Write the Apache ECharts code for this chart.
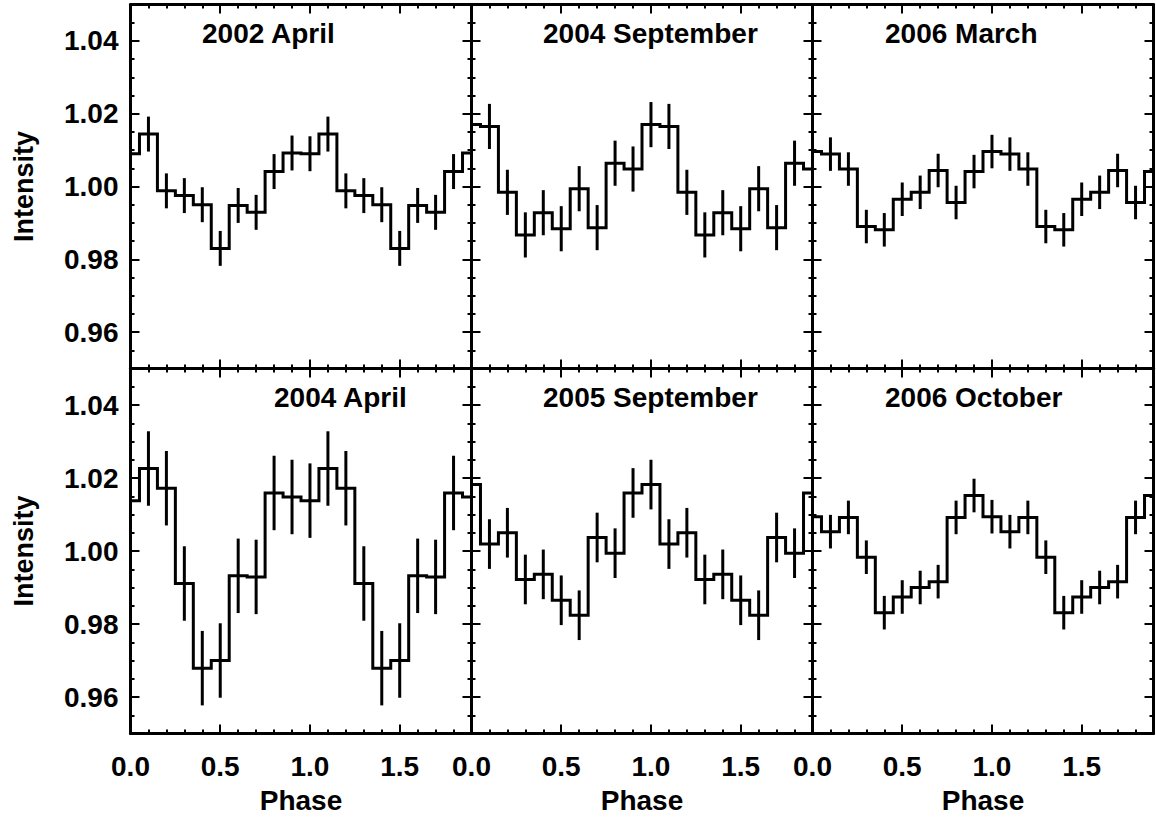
<!DOCTYPE html>
<html>
<head>
<meta charset="utf-8">
<script src="https://cdn.jsdelivr.net/npm/echarts@6.0.0/dist/echarts.min.js"></script>
<style>
  html, body { margin: 0; padding: 0; background: #fff; }
  #chart { width: 1156px; height: 817px; }
</style>
</head>
<body>
<div id="chart"></div>
<script>
// phase points (two cycles, bin width 0.1)
var phase = [0.0, 0.1, 0.2, 0.3, 0.4, 0.5, 0.6, 0.7, 0.8, 0.9,
             1.0, 1.1, 1.2, 1.3, 1.4, 1.5, 1.6, 1.7, 1.8, 1.9];

var titles = ['2002 April', '2004 September', '2006 March',
              '2004 April', '2005 September', '2006 October'];

// mean intensity per phase bin (one cycle, 10 bins)
var apr2002 = [1.0090, 1.0144, 0.9988, 0.9975, 0.9950, 0.9830, 0.9948, 0.9929, 1.0041, 1.0092];
var sep2004 = [1.0170, 1.0165, 0.9984, 0.9867, 0.9928, 0.9884, 0.9994, 0.9887, 1.0064, 1.0048];
var mar2006 = [1.0096, 1.0089, 1.0048, 0.9890, 0.9881, 0.9965, 0.9984, 1.0044, 0.9956, 1.0041];
var apr2004 = [1.0138, 1.0226, 1.0172, 0.9911, 0.9679, 0.9700, 0.9932, 0.9929, 1.0159, 1.0148];
var sep2005 = [1.0182, 1.0019, 1.0050, 0.9922, 0.9936, 0.9865, 0.9824, 1.0037, 0.9994, 1.0159];
var oct2006 = [1.0094, 1.0053, 1.0092, 0.9983, 0.9831, 0.9874, 0.9900, 0.9916, 1.0092, 1.0152];

// error bar half-length for each panel
var errs = [0.0048, 0.0062, 0.0046, 0.0102, 0.0068, 0.0046];

var xTicks = [0.0, 0.5, 1.0, 1.5];
var yTicks = [0.96, 0.98, 1.00, 1.02, 1.04];

var panels = [apr2002, sep2004, mar2006, apr2004, sep2005, oct2006];

var colLeft = [130.5, 471.5, 812.5];
var rowTop = [4.5, 368.5];
var rowH = [364, 365];
var gridW = 341;

var font = "'Liberation Sans', Arial, sans-serif";
var labelStyle = { color: '#000', fontSize: 28, fontWeight: 'bold', fontFamily: font };

var grids = [], xAxes = [], yAxes = [], series = [], title = [];

panels.forEach(function (vals, k) {
  var row = Math.floor(k / 3), col = k % 3;
  grids.push({
    left: colLeft[col], top: rowTop[row], width: gridW, height: rowH[row],
    containLabel: false, outerBoundsMode: 'none'
  });

  // x axes: bottom major, top major, bottom minor, top minor
  ['bottom', 'top'].forEach(function (pos) {
    var withLabels = pos === 'bottom' && row === 1;
    xAxes.push({
      type: 'value', gridIndex: k, min: 0, max: 1.9, position: pos,
      axisLine: { show: true, onZero: false, lineStyle: { color: '#000', width: 3 } },
      axisTick: { show: true, inside: true, length: 9, customValues: xTicks,
                  lineStyle: { color: '#000', width: 2 } },
      axisLabel: { show: withLabels, customValues: xTicks, margin: 19,
                   formatter: function (v) { return v.toFixed(1); }, ...labelStyle },
      splitLine: { show: false },
      name: withLabels ? 'Phase' : '', nameLocation: 'middle', nameGap: 53,
      nameTextStyle: labelStyle
    });
  });
  ['bottom', 'top'].forEach(function (pos) {
    xAxes.push({
      type: 'value', gridIndex: k, min: 0, max: 1.9, interval: 0.1, position: pos,
      axisLine: { show: false, onZero: false },
      axisTick: { show: true, inside: true, length: 4, lineStyle: { color: '#000', width: 2 } },
      axisLabel: { show: false }, splitLine: { show: false }
    });
  });

  // y axes: left major, right major, left minor, right minor
  ['left', 'right'].forEach(function (pos) {
    var withLabels = pos === 'left' && col === 0;
    yAxes.push({
      type: 'value', gridIndex: k, min: 0.95, max: 1.05, position: pos,
      axisLine: { show: true, onZero: false, lineStyle: { color: '#000', width: 3 } },
      axisTick: { show: true, inside: true, length: 9, customValues: yTicks,
                  lineStyle: { color: '#000', width: 2 } },
      axisLabel: { show: withLabels, customValues: yTicks, margin: 12,
                   formatter: function (v) { return v.toFixed(2); }, ...labelStyle },
      splitLine: { show: false },
      name: withLabels ? 'Intensity' : '', nameLocation: 'middle', nameGap: 93,
      nameTextStyle: { color: '#000', fontSize: 27, fontWeight: 'bold', fontFamily: font }
    });
  });
  ['left', 'right'].forEach(function (pos) {
    yAxes.push({
      type: 'value', gridIndex: k, min: 0.95, max: 1.05, interval: 0.005, position: pos,
      axisLine: { show: false, onZero: false },
      axisTick: { show: true, inside: true, length: 4, lineStyle: { color: '#000', width: 2 } },
      axisLabel: { show: false }, splitLine: { show: false }
    });
  });

  // histogram
  series.push({
    type: 'line', xAxisIndex: 4 * k, yAxisIndex: 4 * k,
    step: 'middle', symbol: 'none', silent: true,
    data: phase.map(function (p, i) { return [p, vals[i % 10]]; }),
    lineStyle: { color: '#000', width: 3, join: 'miter', cap: 'butt' }
  });
  // error bars
  series.push({
    type: 'custom', xAxisIndex: 4 * k, yAxisIndex: 4 * k, silent: true,
    encode: { x: 0, y: 1 },
    data: phase.map(function (p, i) { return [p, vals[i % 10], errs[k]]; }),
    renderItem: function (params, api) {
      var x = api.value(0), v = api.value(1), e = api.value(2);
      var lo = api.coord([x, v - e]), hi = api.coord([x, v + e]);
      return {
        type: 'line',
        shape: { x1: lo[0], y1: lo[1], x2: hi[0], y2: hi[1] },
        style: { stroke: '#000', lineWidth: 3 }
      };
    }
  });
});

var titleLeft = [202, 543, 885, 274, 543, 885];
var titleTop = [19, 19, 19, 383, 383, 383];
titles.forEach(function (t, k) {
  title.push({
    text: t, left: titleLeft[k], top: titleTop[k], padding: 0,
    textStyle: labelStyle
  });
});

var myChart = echarts.init(document.getElementById('chart'), null, { renderer: 'svg' });
myChart.setOption({
  animation: false,
  title: title,
  grid: grids,
  xAxis: xAxes,
  yAxis: yAxes,
  series: series
});
</script>
</body>
</html>
